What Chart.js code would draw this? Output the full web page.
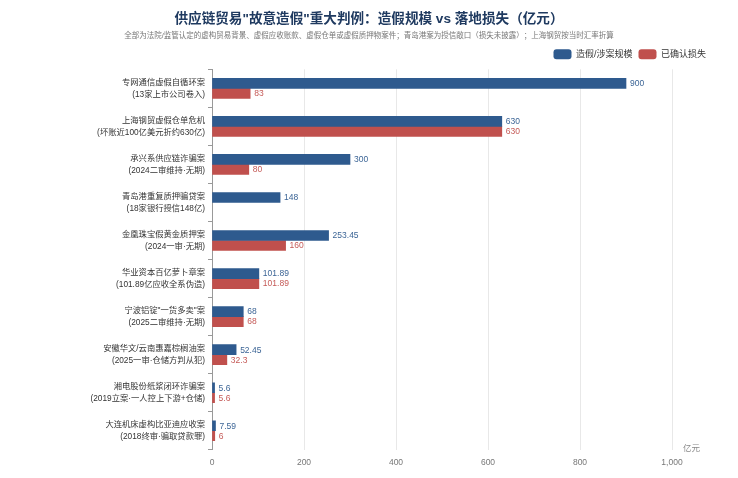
<!DOCTYPE html>
<html>
<head>
<meta charset="utf-8">
<script src="https://cdn.jsdelivr.net/npm/chart.js@4.4.1/dist/chart.umd.min.js"></script>
<style>
html,body{margin:0;padding:0;background:#fff;}
#wrap{width:738px;height:478px;}
</style>
</head>
<body>
<div id="wrap"><canvas id="c" width="738" height="478"></canvas></div>
<script>
const categories = [
  ['专网通信虚假自循环案','(13家上市公司卷入)'],
  ['上海钢贸虚假仓单危机','(坏账近100亿美元折约630亿)'],
  ['承兴系供应链诈骗案','(2024二审维持·无期)'],
  ['青岛港重复质押骗贷案','(18家银行授信148亿)'],
  ['金凰珠宝假黄金质押案','(2024一审·无期)'],
  ['华业资本百亿萝卜章案','(101.89亿应收全系伪造)'],
  ['宁波铝锭"一货多卖"案','(2025二审维持·无期)'],
  ['安徽华文/云南惠嘉棕榈油案','(2025一审·仓储方判从犯)'],
  ['湘电股份纸浆闭环诈骗案','(2019立案·一人控上下游+仓储)'],
  ['大连机床虚构比亚迪应收案','(2018终审·骗取贷款罪)']
];
const scaleValues = [900, 630, 300, 148, 253.45, 101.89, 68, 52.45, 5.6, 7.59];
const lossValues  = [83, 630, 80, null, 160, 101.89, 68, 32.3, 5.6, 6];
const seriesNames = ['造假/涉案规模', '已确认损失'];
const xTicks = [0, 200, 400, 600, 800, 1000];

const FONT = '"Liberation Sans", "Noto Sans CJK SC", sans-serif';
const BLUE = '#2e5a8e', RED = '#c0504d';
const BLUE_TXT = '#3c6596', RED_TXT = '#c55a57';

const valueLabels = {
  id: 'valueLabels',
  afterDatasetsDraw(chart) {
    const ctx = chart.ctx;
    ctx.save();
    ctx.font = '8.5px ' + FONT;
    ctx.textBaseline = 'middle';
    ctx.textAlign = 'left';
    chart.data.datasets.forEach((ds, di) => {
      const meta = chart.getDatasetMeta(di);
      ctx.fillStyle = di === 0 ? BLUE_TXT : RED_TXT;
      meta.data.forEach((bar, i) => {
        const v = ds.data[i];
        if (v === null || v === undefined) return;
        ctx.fillText(String(v), bar.x + 4, bar.y + 0.5);
      });
    });
    // axis name
    const xs = chart.scales.x;
    ctx.fillStyle = '#888';
    ctx.font = '8.5px ' + FONT;
    ctx.textAlign = 'left';
    ctx.textBaseline = 'bottom';
    ctx.fillText('亿元', xs.right + 11, xs.top + 3);
    ctx.restore();
  }
};

new Chart(document.getElementById('c'), {
  type: 'bar',
  data: {
    labels: categories,
    datasets: [
      { label: seriesNames[0], data: scaleValues, backgroundColor: BLUE, yAxisID: 'y' },
      { label: seriesNames[1], data: lossValues, backgroundColor: RED, yAxisID: 'y' }
    ]
  },
  options: {
    indexAxis: 'y',
    responsive: false,
    animation: false,
    devicePixelRatio: 1,
    layout: { padding: { left: 26, right: 26, top: 0, bottom: 2 } },
    datasets: { bar: { barThickness: 10, categoryPercentage: 0.625, barPercentage: 1 } },
    plugins: {
      title: {
        display: true,
        text: '供应链贸易"故意造假"重大判例：造假规模 vs 落地损失（亿元）',
        color: '#1f3a60',
        font: { family: FONT, size: 13.6, weight: 'bold' },
        padding: { top: 11, bottom: 4 }
      },
      subtitle: {
        display: true,
        text: '全部为法院/监管认定的虚构贸易背景、虚假应收账款、虚假仓单或虚假质押物案件；青岛港案为授信敞口（损失未披露）；上海钢贸按当时汇率折算',
        color: '#777',
        font: { family: FONT, size: 7.5 },
        padding: { bottom: 3 }
      },
      legend: {
        display: true,
        position: 'top',
        align: 'end',
        labels: {
          color: '#333',
          font: { family: FONT, size: 9 },
          boxWidth: 18,
          boxHeight: 10,
          padding: 6,
          useBorderRadius: true,
          borderRadius: 3
        }
      },
      tooltip: { enabled: false }
    },
    scales: {
      x: {
        type: 'linear',
        min: 0,
        max: 1000,
        afterBuildTicks(s) { s.ticks = xTicks.map(v => ({ value: v })); },
        grid: { color: '#e8e8e8', drawTicks: false },
        border: { display: false },
        ticks: { color: '#777', font: { family: FONT, size: 8.5 }, padding: 8 }
      },
      y: {
        type: 'category',
        position: 'left',
        grid: { display: true, drawOnChartArea: false, offset: true, tickLength: 4, color: '#999' },
        border: { display: true, color: '#999' },
        ticks: { color: '#333', font: { family: FONT, size: 8.3, lineHeight: 1.45 }, padding: 3 },
        afterFit(s) { s.width = 186; }
      },
      yR: {
        type: 'linear',
        position: 'right',
        display: true,
        grid: { display: false, drawTicks: false },
        border: { display: false },
        ticks: { display: false },
        afterFit(s) { s.width = 40; }
      }
    }
  },
  plugins: [valueLabels]
});
</script>
</body>
</html>
